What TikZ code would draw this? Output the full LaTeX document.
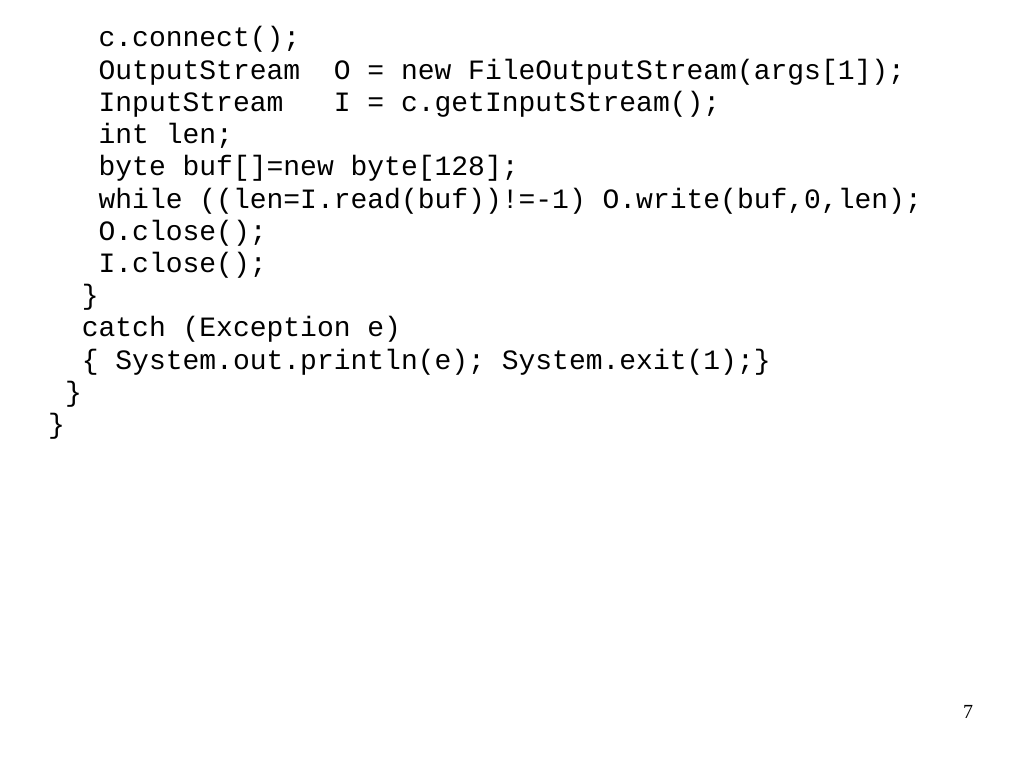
\documentclass[tikz,border=0pt]{standalone}
\usepackage{fontspec}
\setmonofont{Liberation Mono}
\setmainfont{Liberation Serif}
\tikzset{code/.style={anchor = base west, inner sep = 0pt, font = \fontsize{28}{32}\ttfamily}}
\newcommand{\ind}[1]{\hspace{#1\dimexpr 16.8pt\relax}}
\begin{document}
\begin{tikzpicture}[x = 1pt, y = -1pt]
	\useasboundingbox[fill = white] (0,0) rectangle (1024,768);
	\path
	(48,47) node[code](L1){\ind{3}c.connect();}
	(48,79.2) node[code](L2){\ind{3}OutputStream\ \ O = new FileOutputStream(args[1]);}
	(48,111.4) node[code](L3){\ind{3}InputStream\ \ \ I = c.getInputStream();}
	(48,143.6) node[code](L4){\ind{3}int len;}
	(48,175.8) node[code](L5){\ind{3}byte buf[]=new byte[128];}
	(48,208) node[code](L6){\ind{3}while ((len=I.read(buf))!=-1) O.write(buf,0,len);}
	(48,240.2) node[code](L7){\ind{3}O.close();}
	(48,272.4) node[code](L8){\ind{3}I.close();}
	(48,304.6) node[code](L9){\ind{2}\}}
	(48,336.8) node[code](L10){\ind{2}catch (Exception e)}
	(48,369) node[code](L11){\ind{2}\{ System.out.println(e); System.exit(1);\}}
	(48,401.2) node[code](L12){\ind{1}\}}
	(48,433.4) node[code](L13){\}}
	(968,718) node[anchor = base, font = \fontsize{20}{24}\selectfont](page){7}
	;
\end{tikzpicture}
\end{document}
